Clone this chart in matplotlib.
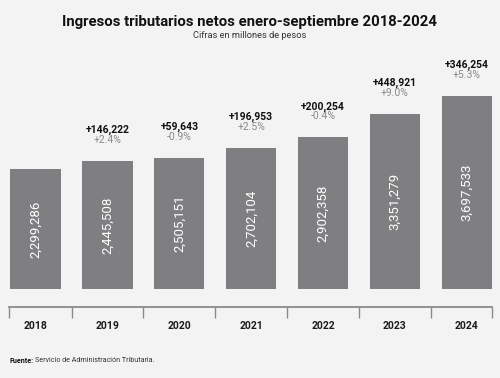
import matplotlib
matplotlib.use("Agg")
import matplotlib.pyplot as plt

years = ["2018", "2019", "2020", "2021", "2022", "2023", "2024"]
values = [2299286, 2445508, 2505151, 2702104, 2902358, 3351279, 3697533]
diffs = [None, "+146,222", "+59,643", "+196,953", "+200,254", "+448,921", "+346,254"]
pcts = [None, "+2.4%", "-0.9%", "+2.5%", "-0.4%", "+9.0%", "+5.3%"]

BG = "#f3f3f3"
BAR = "#7f7f81"
FONT = "Roboto"

fig = plt.figure(figsize=(5.0, 3.78), dpi=100, facecolor=BG)
W, H = 500, 378
left, right, top, bottom = 9, 492, 50, 307
ax = fig.add_axes([left / W, (H - bottom) / H, (right - left) / W, (bottom - top) / H])
ax.set_facecolor(BG)

x = list(range(len(years)))
ax.bar(x, values, width=0.70, color=BAR, edgecolor="none", zorder=2)

ax.set_xlim(-0.37, len(years) - 1 + 0.35)
ax.set_ylim(-345000, 4578000)

for s in ["top", "right", "left"]:
    ax.spines[s].set_visible(False)
ax.spines["bottom"].set_color("#8a8a8a")
ax.spines["bottom"].set_linewidth(1.3)
ax.set_yticks([])

bounds = [-0.37] + [i + 0.5 for i in range(len(years) - 1)] + [len(years) - 1 + 0.35]
ax.set_xticks(bounds)
ax.set_xticklabels([""] * len(bounds))
ax.tick_params(axis="x", which="major", direction="out", length=8, width=1.0, color="#8a8a8a")
ax.set_xticks(x, minor=True)
ax.set_xticklabels(years, minor=True, fontfamily=FONT, fontweight="bold", fontsize=7.5, color="#1a1a1a")
ax.tick_params(axis="x", which="minor", length=0, pad=10)

for i, v in enumerate(values):
    ax.text(i, v / 2, f"{v:,}", rotation=90, ha="center", va="center", color="white",
            fontfamily=FONT, fontsize=9.5, zorder=3)
    if diffs[i]:
        ax.annotate(diffs[i], (i, v), xytext=(0, 31), textcoords="offset pixels",
                    ha="center", va="center", fontfamily=FONT, fontweight="bold",
                    fontsize=7.5, color="#111111")
        ax.annotate(pcts[i], (i, v), xytext=(0, 21), textcoords="offset pixels",
                    ha="center", va="center", fontfamily=FONT, fontsize=7.5, color="#8a8a8a")

fig.text(0.5, 1 - 22 / H, "Ingresos tributarios netos enero-septiembre 2018-2024", ha="center", va="center",
         fontfamily=FONT, fontweight="bold", fontsize=10.7, color="#111111")
fig.text(0.5, 1 - 36 / H, "Cifras en millones de pesos", ha="center", va="center",
         fontfamily=FONT, fontsize=6.7, color="#333333")

t1 = fig.text(10 / W, 1 - 361 / H, "Fuente:", ha="left", va="center", fontfamily=FONT,
              fontweight="bold", fontsize=5.1, color="#111111")
fig.canvas.draw()
bb = t1.get_window_extent()
fig.text((bb.x1 + 1) / W, 1 - 361 / H, "Servicio de Administración Tributaria.", ha="left", va="center",
         fontfamily=FONT, fontsize=5.1, color="#333333")

fig.savefig("out.png", dpi=100, facecolor=BG)
